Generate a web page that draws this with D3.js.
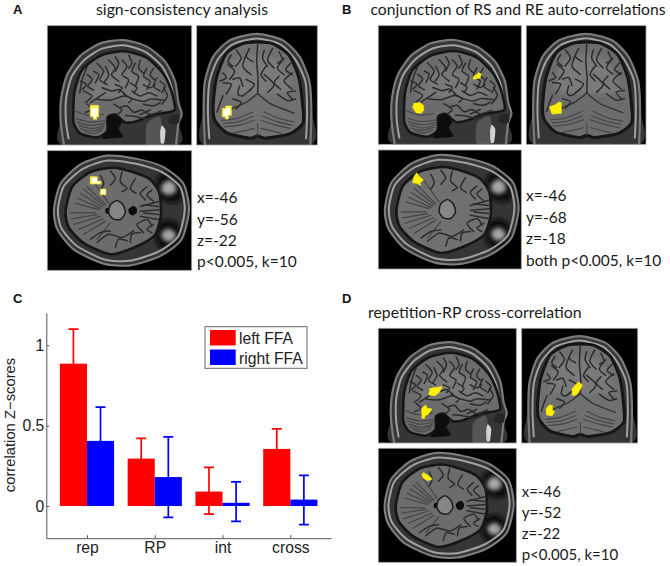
<!DOCTYPE html>
<html><head><meta charset="utf-8">
<script src="https://cdn.jsdelivr.net/npm/d3@7"></script>
<style>html,body{margin:0;padding:0;background:#fff}svg{display:block}</style>
</head><body><div id="c"></div>
<script>
// ---- chart data ----
const categories = ["rep","RP","int","cross"];
const seriesNames = ["left FFA","right FFA"];
const seriesColors = ["#ff0000","#0000ff"];
const leftValues  = [0.885,0.295,0.09,0.355];
const rightValues = [0.405,0.18,0.02,0.04];
const leftHigh  = [1.10,0.42,0.24,0.48];
const rightHigh = [0.615,0.43,0.15,0.19];
const leftLow   = [0.67,0.17,-0.05,0.23];
const rightLow  = [0.195,-0.07,-0.095,-0.115];
const yTicks = [0,0.5,1];
const yTickLabels = ["0","0.5","1"];
const yLabel = "correlation Z\u2212scores";

// ---- panel texts ----
const panelLetters = [["A",13,14],["B",342,14],["C",13,303],["D",342,303]];
const titles = [["sign-consistency analysis",96,15,15.8,172],["conjunction of RS and RE auto-correlations",370.5,15,15.4,295],["repetition-RP cross-correlation",368,318,15.8,213.5]];
const captionA = ["x=-46","y=-56","z=-22","p<0.005, k=10"];
const captionB = ["x=-46","y=-68","z=-18","both p<0.005, k=10"];
const captionD = ["x=-46","y=-52","z=-22","p<0.005, k=10"];

// ---- brain drawing outlines (units: 3x zoomed image pixels) ----
const sagHead=[50,365,40,290,42,220,60,150,100,92,160,54,230,44,300,64,355,110,385,170,395,235,405,270,395,300,388,365];
const sagBone=[64,345,56,290,57,220,74,155,112,104,165,70,230,60,295,80,345,124,372,180,382,240];
const sagBrain=[78,270,82,200,105,135,160,92,230,78,298,97,348,145,374,200,385,255,365,265,320,272,270,292,235,296,205,272,182,280,180,322,150,342,100,330,80,300];
const sagSulci=[
[120,150,135,165,122,185,140,197],[150,115,170,140,158,165,180,180],[185,105,205,130,193,150,215,170],
[225,105,240,125,225,150,245,165,235,190],[265,115,255,140,275,155,265,185],[300,130,290,155,310,170,300,195],
[330,160,320,185,340,200],[110,200,135,215,115,235],[165,190,195,200,215,195,235,210],[255,200,280,215,305,205,330,215],
[350,190,362,215,345,240],[150,225,190,228,232,215,262,226,290,232,312,224,352,228],[220,250,240,245,260,265,285,258,310,272,345,260],
[235,275,265,278,300,285,330,275],[120,125,105,165,98,205],[230,210,255,225,245,235],
[100,170,118,180,105,195],[140,140,155,150,145,175],[175,125,185,150,172,172],[205,95,215,115,205,140],[245,90,255,115,245,130],
[280,105,275,130,290,145],[320,130,310,150,322,165],[340,170,355,185,345,205],[130,235,160,215,175,205],[205,180,225,190,215,205],
[250,175,270,190,260,205],[290,180,310,190,325,180],[120,240,135,255,115,265],[290,240,320,245,340,235],[200,240,225,258,212,270],[280,272,310,258]];
const sagCere=[[88,285,130,295,175,290],[95,305,135,315,172,305],[110,323,140,330,165,320],[86,262,125,275,170,270],[90,295,130,305,175,298],[100,315,135,322,170,312]];
const sagStem=[182,282,205,272,225,295,215,315,228,340,190,345,165,345,182,320];
const sagFace1=[345,305,356,320,352,358,342,358,340,325];
const sagFace2=[375,272,398,274,396,298,378,302,364,292];
const sagFace3=[300,300,340,280,345,365,300,365];
const sagWhite=[140,170,200,130,280,150,340,210,270,235,190,220,130,230];

const corHead=[25,366,21,260,25,170,50,95,100,45,182,25,262,45,312,95,342,170,348,260,345,366];
const corBone=[38,345,34,260,39,172,63,105,108,58,182,39,255,58,300,105,330,172,335,260,332,345];
const corBrain=[50,245,60,160,90,85,140,55,183,50,230,55,280,90,310,160,322,250,322,300,282,332,210,345,185,338,160,345,90,328,55,290];
const corSulci=[
[185,58,182,110,186,160,185,208],[120,75,135,100,118,125],[95,120,115,140,100,165],[80,175,105,180,90,210],[150,90,140,125,165,150],
[230,70,215,105,235,130],[265,100,245,130,265,150],[290,145,265,170,290,195],[205,150,235,180,215,205],[130,185,125,210,140,215,165,195],
[245,210,275,230,300,225],[150,165,175,180,160,200],[80,215,70,240,62,265],
[105,90,95,110,110,125],[160,70,150,95,170,110],[205,75,200,100,215,125],[250,80,260,105,245,115],[285,115,270,135,290,150],[70,170,90,160,80,145],
[110,165,130,160,140,185],[210,125,195,150,210,170],[250,155,235,175,255,195],[300,200,275,205,290,225],[110,225,135,235,120,255]];
const corTent=[[185,208,150,235,95,260],[185,208,225,240,295,268]];
const corCere=[[75,290,120,285,170,265],[85,310,130,305,175,290],[295,295,250,285,205,265],[285,315,240,305,195,290],[185,300,185,338],[110,330,145,322,175,315],[258,330,225,322,195,315],[80,300,125,295,172,278],[290,305,245,295,200,278]];
const corWhite=[110,110,180,90,250,110,285,200,220,210,140,210,90,200];

const axHead=[20,180,40,100,100,42,180,15,270,25,350,50,410,100,427,180,405,270,340,322,250,350,170,345,80,302,30,240];
const axBone=[32,180,50,108,106,56,182,30,268,40,345,65,400,110,414,180,394,262,335,308,248,336,172,332,88,290,42,235];
const axBrain=[55,185,75,110,130,65,200,52,260,66,310,88,338,130,342,200,322,260,262,295,190,316,110,282,65,235];
const axSulci=[
[190,62,205,85,190,105],[225,65,220,95,240,115,225,125],[160,75,170,100,160,120],[265,85,250,115,268,130],[300,110,280,130,295,150],
[150,280,185,255,225,265,260,245],[205,295,215,270,240,275],[290,250,270,225,300,210,315,230],[280,185,340,180],[280,170,335,155],[280,200,335,210],
[130,270,160,250,190,245],[250,280,255,255,280,250],[315,120,300,135,320,155],[315,250,300,240,320,225],[290,165,335,170],[290,190,335,195]];
const axCere=[[175,165,120,110],[165,172,100,130],[155,180,85,160],[145,190,70,190],[160,200,80,225],[175,215,110,255],[190,220,150,270],[185,160,140,95],[170,168,110,118],[160,176,92,145],[150,195,74,208],[168,208,95,240]];
const axStem=[190,165,210,152,228,165,235,190,220,210,198,208,185,190];
const axDark=[245,178,260,168,270,178,268,192,256,198,246,190];
const axDot=[175,178,183,174,190,182,184,192,176,190];
const axEye1=[345,105,365,90,385,102,387,125,365,135,345,125];
const axEye2=[345,250,365,238,385,250,385,268,365,278,347,268];
const axOrbit1=[330,85,365,62,405,95,405,150,370,160,332,140];
const axOrbit2=[332,225,370,210,400,230,398,285,365,305,328,285];

// ---- image frames and activation clusters (units: 3x zoom from frame corner) ----
const frames = {
  Asag:[47.3,25.7,144.4,119.3], Acor:[196.7,25.7,120.6,119.3], Aax:[47.3,150.7,144.4,119.6],
  Bsag:[378.3,25.7,143,118.6],  Bcor:[526.3,25.7,119.7,118.6], Bax:[378.3,150,143,119],
  Dsag:[378.3,328.3,138,114.7], Dcor:[521.7,328.3,116,114.7],  Dax:[378.3,448.3,138,114]
};
const clusters = {
  Asag:[[129,239,154,239,154,273,148,273,148,281,138,281,138,273,129,273]],
  Acor:[[87,248,87,241,104,241,104,269,95,269,95,280,86,280,86,273,77,273,77,248]],
  Aax:[[129,78,150,78,150,92,161,92,161,100,129,100],[159,115,176,115,176,132,159,132]],
  Bsag:[[107,233,125,231,135,239,137,253,129,263,113,261,103,245],[295,147,301,141,309,145,305,157,285,161,287,151]],
  Bcor:[[86,238,98,229,105,231,105,263,77,265,70,243]],
  Bax:[[115,68,123,80,135,90,125,98,128,106,115,100,103,98,107,80]],
  Dsag:[[155,180,192,175,183,192,170,202,152,200],[142,230,147,240,161,242,150,258,140,262,139,270,131,270,130,240]],
  Dcor:[[171,161,182,170,175,185,163,200,152,202,151,182,163,168],[83,230,92,232,92,246,99,250,91,262,75,260,73,242]],
  Dax:[[135,73,147,80,162,92,150,97,135,90,131,80]]
};

const W=670,H=566;
const svg=d3.select("#c").append("svg").attr("width",W).attr("height",H);
const defs=svg.append("defs");
defs.append("filter").attr("id","b1").append("feGaussianBlur").attr("stdDeviation",0.7);
defs.append("filter").attr("id","b0").append("feGaussianBlur").attr("stdDeviation",0.35);
defs.append("filter").attr("id","b2").attr("x","-30%").attr("y","-30%").attr("width","160%").attr("height","160%").append("feGaussianBlur").attr("stdDeviation",2.2);

const pairs=a=>d3.pairs(a).filter((_,i)=>i%2===0);
function painter(g,key,dw,dh){
  const f=frames[key];
  const sx=d3.scaleLinear([0,dw],[0,f[2]]), sy=d3.scaleLinear([0,dh],[0,f[3]]);
  const closed=d3.line().x(d=>sx(d[0])).y(d=>sy(d[1])).curve(d3.curveCardinalClosed.tension(0.3));
  const open=d3.line().x(d=>sx(d[0])).y(d=>sy(d[1])).curve(d3.curveCardinal.tension(0.3));
  return {
    fill:(a,c,blur)=>g.append("path").attr("d",closed(pairs(a))).attr("fill",c).attr("filter",blur||null),
    line:(a,c,w)=>g.append("path").attr("d",open(pairs(a))).attr("fill","none").attr("stroke",c).attr("stroke-width",w).attr("stroke-linecap","round"),
    ring:(a,c,w)=>g.append("path").attr("d",closed(pairs(a))).attr("fill","none").attr("stroke",c).attr("stroke-width",w),
    many:(l,c,w)=>l.forEach(a=>g.append("path").attr("d",open(pairs(a))).attr("fill","none").attr("stroke",c).attr("stroke-width",w).attr("stroke-linecap","round"))
  };
}
function frame(key){
  const f=frames[key];
  const clip="clip"+key;
  defs.append("clipPath").attr("id",clip).append("rect").attr("width",f[2]).attr("height",f[3]);
  const o=svg.append("g").attr("transform",`translate(${f[0]},${f[1]})`);
  o.append("rect").attr("width",f[2]).attr("height",f[3]).attr("fill","#000");
  const g=o.append("g").attr("clip-path",`url(#${clip})`).append("g").attr("filter","url(#b1)");
  return {o,g,f};
}
function blobs(key,o,colOuter,colInner){
  const f=frames[key];
  const sx=d3.scaleLinear([0,f[2]*3],[0,f[2]]), sy=d3.scaleLinear([0,f[3]*3],[0,f[3]]);
  const ln=d3.line().x(d=>sx(d[0])).y(d=>sy(d[1])).curve(d3.curveLinearClosed);
  clusters[key].forEach(c=>{
    const p=ln(pairs(c));
    o.append("path").attr("d",p).attr("fill",colOuter).attr("stroke",colOuter).attr("stroke-width",0.6).attr("filter","url(#b0)");
    if(colInner){
      const cx=d3.mean(pairs(c),d=>sx(d[0])),cy=d3.mean(pairs(c),d=>sy(d[1]));
      o.append("path").attr("d",p).attr("fill",colInner).attr("transform",`translate(${cx},${cy}) scale(0.72) translate(${-cx},${-cy})`).attr("filter","url(#b0)");
    }
  });
  o.append("rect").attr("width",f[2]).attr("height",f[3]).attr("fill","none").attr("stroke","#a0a0a0").attr("stroke-width",0.8);
}
const sulcusCol="#2c2c2c", foldCol="#444";
function sag(key,c,ci,gray){
  const {o,g}=frame(key);
  const p=painter(g,key,435,365);
  p.fill(sagHead,"#363636");
  p.line(sagHead,"#7a7a7a",2.2);
  p.line(sagBone,"#a0a0a0",2);
  p.fill(sagFace3,"#555");
  p.fill(sagBrain,gray);
  p.fill(sagWhite,"#787878","url(#b2)");
  p.ring(sagBrain,"#171717",2.6);
  p.fill(sagStem,"#0c0c0c");
  p.fill(sagFace2,"#262626");
  p.fill(sagFace1,"#d2d2d2");
  p.many(sagCere,foldCol,1.1);
  p.many(sagSulci,sulcusCol,1.5);
  blobs(key,o,c,ci);
}
function cor(key,c,ci,gray){
  const {o,g}=frame(key);
  const p=painter(g,key,366,366);
  p.fill(corHead,"#363636");
  p.line(corHead,"#7a7a7a",2.2);
  p.line(corBone,"#a0a0a0",2);
  p.fill(corBrain,gray);
  p.fill(corWhite,"#7a7a7a","url(#b2)");
  p.ring(corBrain,"#141414",3);
  p.many(corCere,foldCol,1.1);
  p.many(corTent,"#2e2e2e",1.3);
  p.many(corSulci,sulcusCol,1.5);
  blobs(key,o,c,ci);
}
function ax(key,c,ci,gray,withDark){
  const {o,g}=frame(key);
  const p=painter(g,key,435,365);
  p.fill(axHead,"#363636");
  p.fill(axOrbit1,"#101010","url(#b2)");p.fill(axOrbit2,"#101010","url(#b2)");
  p.ring(axHead,"#808080",2);
  p.ring(axBone,"#a0a0a0",2);
  p.fill(axBrain,gray);
  p.ring(axBrain,"#141414",2.6);
  p.fill(axEye1,"#a6a6a6","url(#b2)");p.fill(axEye2,"#a6a6a6","url(#b2)");
  p.many(axCere,foldCol,1.2);
  p.many(axSulci,sulcusCol,1.5);
  if(withDark){p.fill(axDark,"#0e0e0e");p.fill(axDot,"#0e0e0e");}
  p.fill(axStem,"#868686");
  p.ring(axStem,"#1e1e1e",1.5);
  blobs(key,o,c,ci);
}
const YA="#fff040",WA="#fffff0",YB="#fff000";
sag("Asag",YA,WA,"#6c6c6c");cor("Acor",YA,WA,"#707070");ax("Aax",YA,WA,"#6c6c6c",true);
sag("Bsag",YB,null,"#6c6c6c");cor("Bcor",YB,null,"#6c6c6c");ax("Bax",YB,null,"#707070",false);
sag("Dsag",YB,null,"#6c6c6c");cor("Dcor",YB,null,"#707070");ax("Dax",YB,null,"#6c6c6c",true);

// ---- texts ----
const calibri="Lato, 'Open Sans', sans-serif";
svg.append("g").selectAll("text").data(panelLetters).join("text")
  .attr("x",d=>d[1]).attr("y",d=>d[2]).text(d=>d[0])
  .attr("font-family","'Liberation Sans',Arial,sans-serif").attr("font-weight","bold").attr("font-size",13).attr("fill","#111");
svg.append("g").selectAll("text").data(titles).join("text")
  .attr("x",d=>d[1]).attr("y",d=>d[2]).text(d=>d[0])
  .attr("textLength",d=>d[4]).attr("lengthAdjust","spacingAndGlyphs")
  .attr("font-family",calibri).attr("font-size",d=>d[3]).attr("fill","#1a1a1a");
function caption(lines,x,ys,fs){
  svg.append("g").selectAll("text").data(lines).join("text")
    .attr("x",x).attr("y",(d,i)=>ys[i]).text(d=>d)
    .attr("font-family",calibri).attr("font-size",fs).attr("fill","#1a1a1a");
}
caption(captionA,197,[203,224.5,245.5,267],15.5);
caption(captionB,526,[201,222.5,244,265.5],15.5);
caption(captionD,521.7,[496.7,517.5,539,560],15);

// ---- bar chart ----
const x=d3.scaleLinear([0.4,4.6],[46.3,331]);
const y=d3.scaleLinear([-0.2,1.2],[538.2,313]);
const barW=x(1.4)-x(1);
const chart=svg.append("g");
const marks=chart.append("g").attr("filter","url(#b0)");
const rows=categories.flatMap((c,i)=>[
  {i,s:0,v:leftValues[i],hi:leftHigh[i],lo:leftLow[i]},
  {i,s:1,v:rightValues[i],hi:rightHigh[i],lo:rightLow[i]}]);
const cx=d=>x(d.i+1)+(d.s===0?-barW/2:barW/2);
marks.selectAll("rect.bar").data(rows).join("rect").attr("class","bar")
  .attr("x",d=>cx(d)-barW/2).attr("width",barW)
  .attr("y",d=>y(d.v)).attr("height",d=>y(0)-y(d.v))
  .attr("fill",d=>seriesColors[d.s]);
marks.selectAll("path.err").data(rows).join("path").attr("class","err")
  .attr("d",d=>{const X=cx(d);const cap=5;
    return `M${X},${y(d.hi)}V${y(d.lo)}M${X-cap},${y(d.hi)}H${X+cap}M${X-cap},${y(d.lo)}H${X+cap}`;})
  .attr("fill","none").attr("stroke",d=>seriesColors[d.s]).attr("stroke-width",1.7);

const axisColor="#555";
const font="'Liberation Sans',Arial,sans-serif";
const yAxis=chart.append("g").attr("transform",`translate(${x.range()[0]},0)`)
  .call(d3.axisLeft(y).tickValues(yTicks).tickSizeInner(-3).tickSizeOuter(0).tickPadding(2).tickFormat((d,i)=>yTickLabels[i]));
const xAxis=chart.append("g").attr("transform",`translate(0,${y.range()[0]})`)
  .call(d3.axisBottom(x).tickValues(categories.map((_,i)=>i+1)).tickSizeInner(-3).tickSizeOuter(0).tickPadding(4).tickFormat((d,i)=>categories[i]));
[yAxis,xAxis].forEach(a=>{
  a.selectAll("path,line").attr("stroke",axisColor).attr("stroke-width",1);
  a.selectAll("text").attr("font-family",font).attr("font-size",15.7).attr("fill","#222");
});
chart.append("text").attr("transform","translate(15,425) rotate(-90)").attr("text-anchor","middle")
  .attr("font-family",font).attr("font-size",14.8).attr("fill","#222").text(yLabel);

// legend
const lg=chart.append("g");
lg.append("rect").attr("x",205).attr("y",326.7).attr("width",102).attr("height",41.6).attr("fill","#fff").attr("stroke","#666").attr("stroke-width",1);
seriesNames.forEach((n,i)=>{
  lg.append("rect").attr("x",210).attr("y",330+i*19.5).attr("width",25.7).attr("height",15.5).attr("fill",seriesColors[i]).attr("filter","url(#b0)");
  lg.append("text").attr("x",239).attr("y",344+i*20).attr("font-family",font).attr("font-size",15.7).attr("fill","#222").text(n);
});
</script></body></html>
